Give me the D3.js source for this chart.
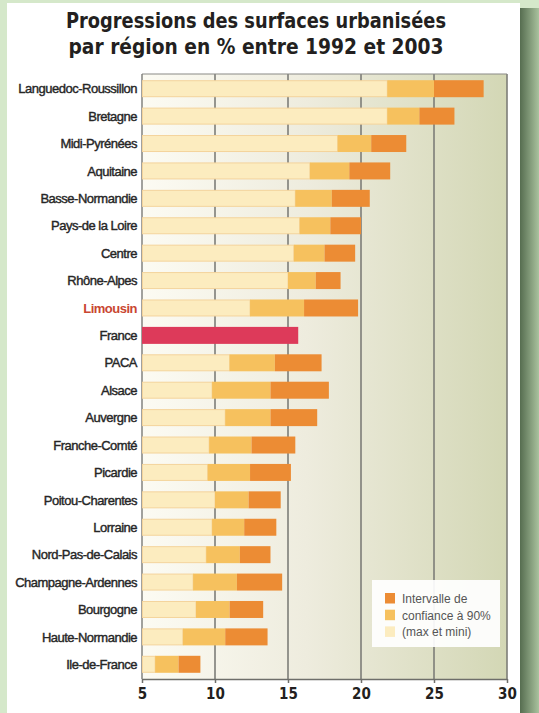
<!DOCTYPE html>
<html><head><meta charset="utf-8">
<script src="https://cdn.jsdelivr.net/npm/d3@7"></script>
<style>html,body{margin:0;padding:0;background:#d5e8ca;}svg{display:block;}</style>
</head><body>
<script>
const regions = ["Languedoc-Roussillon","Bretagne","Midi-Pyrénées","Aquitaine","Basse-Normandie","Pays-de la Loire","Centre","Rhône-Alpes","Limousin","France","PACA","Alsace","Auvergne","Franche-Comté","Picardie","Poitou-Charentes","Lorraine","Nord-Pas-de-Calais","Champagne-Ardennes","Bourgogne","Haute-Normandie","Ile-de-France"];
const lowVals  = [21.8,21.8,18.4,16.5,15.5,15.8,15.4,15.0,12.4,15.7,11.0, 9.8,10.7, 9.6, 9.5,10.0, 9.8, 9.4, 8.5, 8.7, 7.8, 5.9];
const midVals  = [25.0,24.0,20.7,19.2,18.0,17.9,17.5,16.9,16.1,null,14.1,13.8,13.8,12.5,12.4,12.3,12.0,11.7,11.5,11.0,10.7, 7.5];
const highVals = [28.4,26.4,23.1,22.0,20.6,20.0,19.6,18.6,19.8,null,17.3,17.8,17.0,15.5,15.2,14.5,14.2,13.8,14.6,13.3,13.6, 9.0];
const xTicks = [5,10,15,20,25,30];
const titleLines = ["Progressions des surfaces urbanisées","par région en % entre 1992 et 2003"];
const legendLabels = ["Intervalle de","confiance à 90%","(max et mini)"];

const W=539,H=713;
const svg=d3.select("body").append("svg").attr("width",W).attr("height",H);
const defs=svg.append("defs");
const g1=defs.append("linearGradient").attr("id","edge").attr("x1","0").attr("x2","1");
g1.append("stop").attr("offset","0").attr("stop-color","#566d50");
g1.append("stop").attr("offset","1").attr("stop-color","#a9c29e");
const g2=defs.append("linearGradient").attr("id","plotbg").attr("x1","0").attr("x2","1");
g2.append("stop").attr("offset","0").attr("stop-color","#fcfbf3");
g2.append("stop").attr("offset","0.45").attr("stop-color","#eeecde");
g2.append("stop").attr("offset","1").attr("stop-color","#d3d7b5");

svg.append("rect").attr("width",W).attr("height",H).attr("fill","#d5e8ca");
svg.append("rect").attr("x",520).attr("y",8).attr("width",19).attr("height",H).attr("fill","url(#edge)");
svg.append("rect").attr("x",7).attr("y",3).attr("width",513).attr("height",H).attr("fill","#ffffff");

// title
svg.selectAll("text.title").data(titleLines).join("text").attr("class","title")
  .attr("x",256).attr("y",(d,i)=>28+i*26).attr("text-anchor","middle")
  .attr("font-family","'DejaVu Sans Condensed','DejaVu Sans',sans-serif").attr("font-weight","bold")
  .attr("font-size",21).attr("fill","#231f20")
  .attr("textLength",(d,i)=>i===0?380:375).attr("lengthAdjust","spacingAndGlyphs")
  .text(d=>d);

const x=d3.scaleLinear().domain([5,30]).range([142,507]);
const y=d3.scaleBand().domain(regions).range([75,678]).paddingInner(0.38).paddingOuter(0.19);
const plotTop=74,plotBottom=679;

svg.append("rect").attr("x",x(5)).attr("y",plotTop).attr("width",x(30)-x(5)).attr("height",plotBottom-plotTop)
  .attr("fill","url(#plotbg)");
// gridlines
svg.selectAll("line.grid").data(xTicks.slice(1)).join("line").attr("class","grid")
  .attr("x1",d=>x(d)).attr("x2",d=>x(d)).attr("y1",plotTop).attr("y2",plotBottom)
  .attr("stroke","#7d7d78").attr("stroke-width",1.6);
svg.append("line").attr("x1",x(5)).attr("x2",x(30)).attr("y1",plotTop).attr("y2",plotTop).attr("stroke","#8a8a86").attr("stroke-width",1.2);
svg.append("line").attr("x1",x(5)).attr("x2",x(5)).attr("y1",plotTop).attr("y2",plotBottom).attr("stroke","#7a7a76").attr("stroke-width",1.4);

const cLight="#fcecbf",cMid="#f6c15e",cDark="#ec8c34",cFrance="#dd3a5a";
const rows=regions.map((r,i)=>({r,lo:lowVals[i],mid:midVals[i],hi:highVals[i]}));
const bh=y.bandwidth();
const gb=svg.append("g");
rows.forEach(d=>{
  if(d.mid===null){
    gb.append("rect").attr("x",x(5)).attr("y",y(d.r)).attr("width",x(d.lo)-x(5)).attr("height",bh).attr("fill",cFrance);
    return;
  }
  gb.append("rect").attr("x",x(5)+0.5).attr("y",y(d.r)+0.5).attr("width",x(d.lo)-x(5)-0.5).attr("height",bh-1)
    .attr("fill",cLight).attr("stroke","#f4d49c").attr("stroke-width",1);
  gb.append("rect").attr("x",x(d.lo)).attr("y",y(d.r)).attr("width",x(d.mid)-x(d.lo)).attr("height",bh).attr("fill",cMid);
  gb.append("rect").attr("x",x(d.mid)).attr("y",y(d.r)).attr("width",x(d.hi)-x(d.mid)).attr("height",bh).attr("fill",cDark);
});

// labels
svg.selectAll("text.lab").data(regions).join("text").attr("class","lab")
  .attr("x",137).attr("y",d=>y(d)+bh/2).attr("dy","0.36em").attr("text-anchor","end")
  .attr("font-family","'Liberation Sans',Arial,sans-serif").attr("font-size",13)
  .attr("letter-spacing","-0.5px")
  .attr("font-weight",d=>d==="Limousin"?"bold":"normal")
  .attr("fill",d=>d==="Limousin"?"#c94632":"#262626")
  .attr("stroke",d=>d==="Limousin"?"none":"#262626").attr("stroke-width",0.4)
  .text(d=>d);

// x axis
const ax=svg.append("g").attr("transform",`translate(0,${plotBottom})`)
  .call(d3.axisBottom(x).tickValues(xTicks).tickSize(4).tickSizeOuter(0).tickPadding(5));
ax.select(".domain").attr("stroke","#6e6e6a").attr("stroke-width",1.5);
ax.selectAll(".tick line").attr("stroke","#6e6e6a").attr("stroke-width",1.5);
ax.selectAll(".tick text").attr("font-family","'DejaVu Sans Condensed','DejaVu Sans',sans-serif")
  .attr("font-weight","bold").attr("font-size",15).attr("fill","#231f20");

// legend
const lg=svg.append("g");
lg.append("rect").attr("x",372).attr("y",580).attr("width",128).attr("height",67).attr("fill","#ffffff").attr("opacity",0.92);
const lcols=[cDark,cMid,cLight];
legendLabels.forEach((t,i)=>{
  lg.append("rect").attr("x",385).attr("y",593+i*16.7).attr("width",10).attr("height",10.5).attr("fill",lcols[i]);
  lg.append("text").attr("x",402).attr("y",603+i*16.7).attr("font-family","'Liberation Sans',Arial,sans-serif")
    .attr("font-size",12).attr("fill","#555").text(t);
});
</script>
</body></html>
